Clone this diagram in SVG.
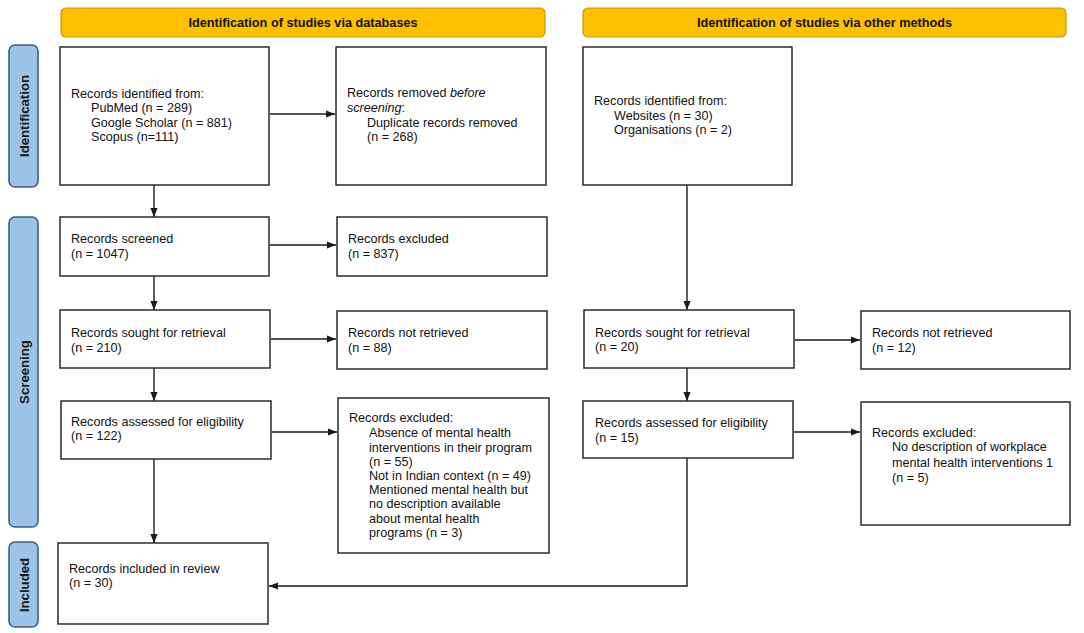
<svg xmlns="http://www.w3.org/2000/svg" width="1084" height="633" viewBox="0 0 1084 633">
<style>
  .box{fill:#fff;stroke:#2b2b2b;stroke-width:1.5}
  .hdr{fill:#FFC000;stroke:#C49A00;stroke-width:1.2}
  .side{fill:#9DC3E6;stroke:#3E5F7F;stroke-width:1.6}
  .t{font-family:"Liberation Sans",Arial,sans-serif;font-size:12.6px;fill:#111}
  .h{font-family:"Liberation Sans",Arial,sans-serif;font-size:12.7px;font-weight:bold;fill:#111}
  .s{font-family:"Liberation Sans",Arial,sans-serif;font-size:13.2px;font-weight:bold;fill:#1a1a1a}
  .c{fill:none;stroke:#1a1a1a;stroke-width:1.4}
</style>
<defs>
  <marker id="ah" viewBox="0 0 10 8" refX="10" refY="4" markerWidth="9" markerHeight="7.5" markerUnits="userSpaceOnUse" orient="auto">
    <path d="M0,0 L10,4 L0,8 z" fill="#1a1a1a"/>
  </marker>
</defs>
<rect width="1084" height="633" fill="#fff"/>

<g id="header-databases">
  <rect class="hdr" x="61" y="8" width="484" height="29" rx="5"/>
  <text class="h" x="303" y="27" text-anchor="middle">Identification of studies via databases</text>
</g>
<g id="header-other">
  <rect class="hdr" x="583" y="8" width="483" height="29" rx="5"/>
  <text class="h" x="824.5" y="27" text-anchor="middle">Identification of studies via other methods</text>
</g>

<g id="side-identification">
  <rect class="side" x="9" y="45" width="29" height="142" rx="6"/>
  <text class="s" transform="translate(28.5,116) rotate(-90)" text-anchor="middle">Identification</text>
</g>
<g id="side-screening">
  <rect class="side" x="9" y="217" width="29" height="310" rx="6"/>
  <text class="s" transform="translate(28.5,372) rotate(-90)" text-anchor="middle">Screening</text>
</g>
<g id="side-included">
  <rect class="side" x="9" y="542" width="29" height="85" rx="6"/>
  <text class="s" transform="translate(28.5,585) rotate(-90)" text-anchor="middle">Included</text>
</g>

<g id="connectors">
  <line class="c" x1="270" y1="114" x2="335" y2="114" marker-end="url(#ah)"/>
  <line class="c" x1="154" y1="185" x2="154" y2="217" marker-end="url(#ah)"/>
  <line class="c" x1="270" y1="245" x2="336" y2="245" marker-end="url(#ah)"/>
  <line class="c" x1="154" y1="276" x2="154" y2="310" marker-end="url(#ah)"/>
  <line class="c" x1="271" y1="339" x2="336" y2="339" marker-end="url(#ah)"/>
  <line class="c" x1="154" y1="368" x2="154" y2="401" marker-end="url(#ah)"/>
  <line class="c" x1="272" y1="432" x2="337" y2="432" marker-end="url(#ah)"/>
  <line class="c" x1="154" y1="459" x2="154" y2="543" marker-end="url(#ah)"/>
  <line class="c" x1="687" y1="185" x2="687" y2="310" marker-end="url(#ah)"/>
  <line class="c" x1="795" y1="340" x2="860" y2="340" marker-end="url(#ah)"/>
  <line class="c" x1="687" y1="368" x2="687" y2="401" marker-end="url(#ah)"/>
  <line class="c" x1="794" y1="432" x2="860" y2="432" marker-end="url(#ah)"/>
  <path class="c" d="M687,458 V586 H269" marker-end="url(#ah)"/>
</g>

<g id="db-identified">
  <rect class="box" x="60" y="47" width="209" height="138"/>
  <text class="t" x="71" y="98">Records identified from:</text>
  <text class="t" x="91" y="112">PubMed (n = 289)</text>
  <text class="t" x="91" y="127">Google Scholar (n = 881)</text>
  <text class="t" x="91" y="141">Scopus (n=111)</text>
</g>
<g id="db-removed">
  <rect class="box" x="336" y="47" width="210" height="138"/>
  <text class="t" x="347" y="97">Records removed <tspan font-style="italic">before</tspan></text>
  <text class="t" x="347" y="112"><tspan font-style="italic">screening</tspan>:</text>
  <text class="t" x="367" y="127">Duplicate records removed</text>
  <text class="t" x="367" y="141">(n = 268)</text>
</g>
<g id="other-identified">
  <rect class="box" x="583" y="47" width="209" height="138"/>
  <text class="t" x="594" y="105">Records identified from:</text>
  <text class="t" x="614" y="120">Websites (n = 30)</text>
  <text class="t" x="614" y="134">Organisations (n = 2)</text>
</g>
<g id="db-screened">
  <rect class="box" x="60" y="217" width="209" height="59"/>
  <text class="t" x="71" y="243">Records screened</text>
  <text class="t" x="71" y="258">(n = 1047)</text>
</g>
<g id="db-excluded">
  <rect class="box" x="337" y="217" width="210" height="59"/>
  <text class="t" x="348" y="243">Records excluded</text>
  <text class="t" x="348" y="258">(n = 837)</text>
</g>
<g id="db-sought">
  <rect class="box" x="60" y="310" width="210" height="58"/>
  <text class="t" x="71" y="337">Records sought for retrieval</text>
  <text class="t" x="71" y="352">(n = 210)</text>
</g>
<g id="db-not-retrieved">
  <rect class="box" x="337" y="311" width="210" height="58"/>
  <text class="t" x="348" y="337">Records not retrieved</text>
  <text class="t" x="348" y="352">(n = 88)</text>
</g>
<g id="db-assessed">
  <rect class="box" x="61" y="401" width="210" height="58"/>
  <text class="t" x="71" y="426">Records assessed for eligibility</text>
  <text class="t" x="71" y="440">(n = 122)</text>
</g>
<g id="db-excluded-eligibility">
  <rect class="box" x="338" y="398" width="211" height="155"/>
  <text class="t" x="349" y="422">Records excluded:</text>
  <text class="t" x="369" y="437">Absence of mental health</text>
  <text class="t" x="369" y="452">interventions in their program</text>
  <text class="t" x="369" y="466">(n = 55)</text>
  <text class="t" x="369" y="480">Not in Indian context (n = 49)</text>
  <text class="t" x="369" y="494">Mentioned mental health but</text>
  <text class="t" x="369" y="508">no description available</text>
  <text class="t" x="369" y="523">about mental health</text>
  <text class="t" x="369" y="537">programs (n = 3)</text>
</g>
<g id="included">
  <rect class="box" x="58" y="543" width="210" height="81"/>
  <text class="t" x="69" y="573">Records included in review</text>
  <text class="t" x="69" y="587">(n = 30)</text>
</g>
<g id="other-sought">
  <rect class="box" x="584" y="310" width="210" height="58"/>
  <text class="t" x="595" y="337">Records sought for retrieval</text>
  <text class="t" x="595" y="351">(n = 20)</text>
</g>
<g id="other-not-retrieved">
  <rect class="box" x="861" y="311" width="209" height="58"/>
  <text class="t" x="872" y="337">Records not retrieved</text>
  <text class="t" x="872" y="352">(n = 12)</text>
</g>
<g id="other-assessed">
  <rect class="box" x="583" y="401" width="210" height="57"/>
  <text class="t" x="595" y="427">Records assessed for eligibility</text>
  <text class="t" x="595" y="442">(n = 15)</text>
</g>
<g id="other-excluded">
  <rect class="box" x="861" y="402" width="209" height="123"/>
  <text class="t" x="872" y="437">Records excluded:</text>
  <text class="t" x="892" y="451">No description of workplace</text>
  <text class="t" x="892" y="467">mental health interventions 1</text>
  <text class="t" x="892" y="482">(n = 5)</text>
</g>
</svg>
